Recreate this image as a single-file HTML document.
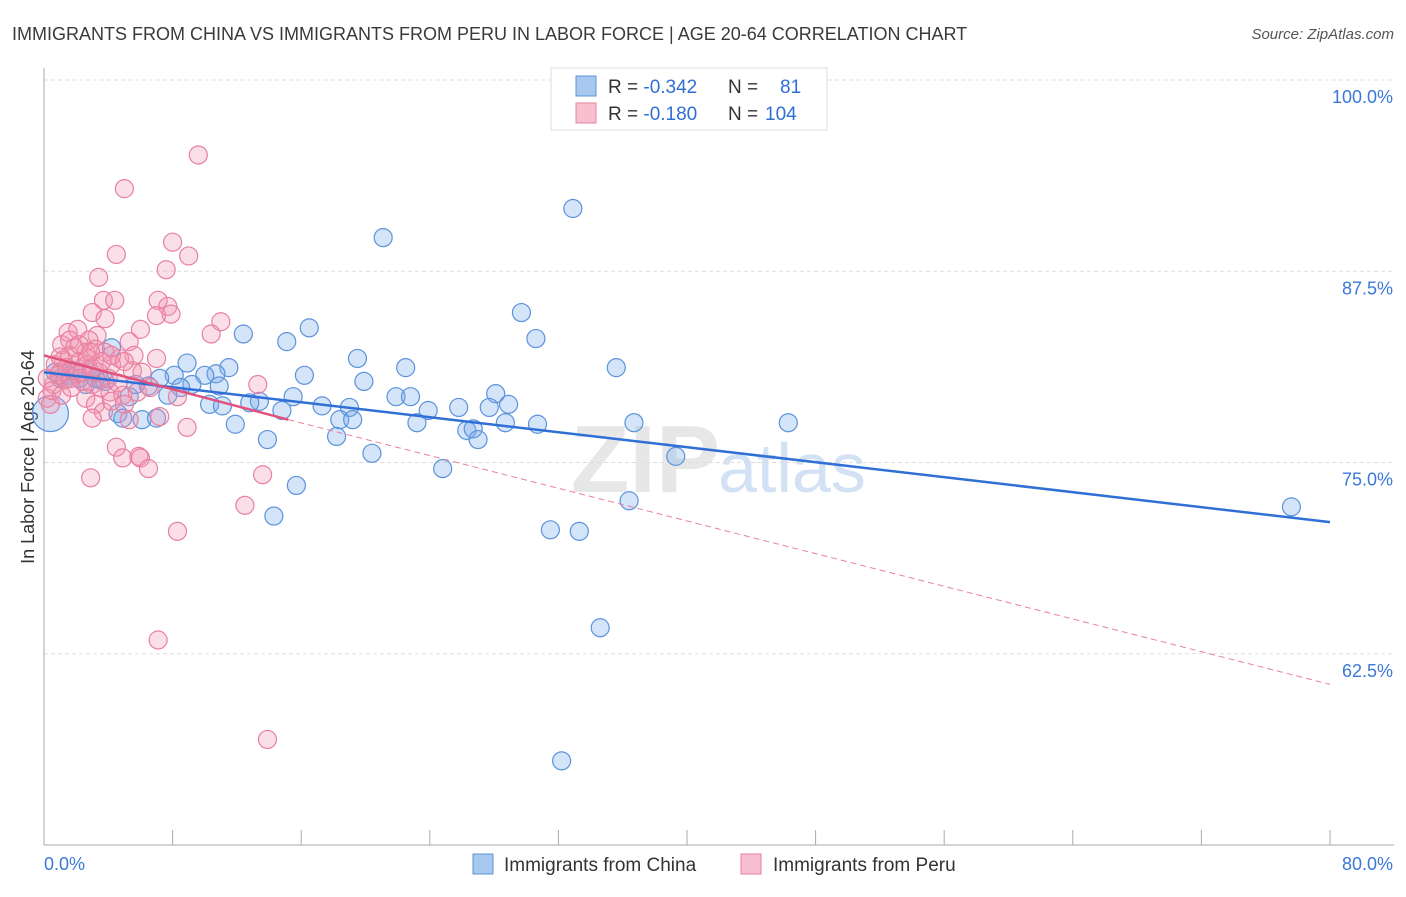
<!DOCTYPE html>
<html><head><meta charset="utf-8"><style>
body{margin:0;background:#fff;font-family:"Liberation Sans",sans-serif;}
svg text{font-family:"Liberation Sans",sans-serif;}
</style></head><body>
<svg id="chart" width="1406" height="892" xmlns="http://www.w3.org/2000/svg">
<text x="12" y="40" font-size="18" fill="#3a3a3a">IMMIGRANTS FROM CHINA VS IMMIGRANTS FROM PERU IN LABOR FORCE | AGE 20-64 CORRELATION CHART</text>
<text x="1394" y="39" font-size="15" fill="#555" font-style="italic" text-anchor="end">Source: ZipAtlas.com</text>
<text x="720" y="492" font-size="96" fill="#ddd" font-family="Liberation Serif" text-anchor="end" font-weight="bold" opacity="0.7">ZIP</text>
<text x="718" y="492" font-size="70" fill="#c9daf2" opacity="0.8">atlas</text>
<g id="grid"></g><g id="axes"></g><g id="pts"></g><g id="lines"></g>
<g>
<rect x="551" y="68" width="276" height="62" fill="#fff" stroke="#ddd"/>
<rect x="576" y="76" width="20" height="20" fill="#a9c8f0" stroke="#5b93db"/>
<rect x="576" y="103" width="20" height="20" fill="#f7bfd0" stroke="#e8809f"/>
<text x="608" y="93" font-size="19" fill="#333">R = <tspan fill="#2f6fd6">-0.342</tspan><tspan x="728">N = </tspan><tspan x="780" fill="#2f6fd6">81</tspan></text>
<text x="608" y="120" font-size="19" fill="#333">R = <tspan fill="#2f6fd6">-0.180</tspan><tspan x="728">N = </tspan><tspan x="765" fill="#2f6fd6">104</tspan></text>
</g>
<g>
<rect x="473" y="854" width="20" height="20" fill="#a9c8f0" stroke="#5b93db"/>
<text x="504" y="871" font-size="19" fill="#333">Immigrants from China</text>
<rect x="741" y="854" width="20" height="20" fill="#f7bfd0" stroke="#e8809f"/>
<text x="773" y="871" font-size="19" fill="#333">Immigrants from Peru</text>
</g>
</svg>
<script>
const chinaX=[32.9,21.1,29.7,30.6,16.5,15.1,12.4,35.6,19.5,22.5,8.9,11.5,10.7,10.0,8.1,7.2,4.2,16.2,19.9,9.2,8.5,10.9,28.1,21.9,22.8,28.9,15.5,13.4,12.8,10.3,11.1,17.3,19.0,25.8,27.7,23.9,7.7,5.3,6.5,14.8,18.4,19.2,23.2,36.7,30.7,28.7,26.3,26.7,46.3,11.9,4.6,4.9,6.1,7.0,18.2,13.9,27.0,20.4,24.8,39.3,15.7,36.4,14.3,31.5,33.3,34.6,32.2,77.6,0.4,1.0,1.6,2.2,2.9,3.5,0.7,3.8,5.7,1.3,1.9,2.6,3.2];
const chinaY=[91.6,89.7,84.8,83.1,83.8,82.9,83.4,81.2,81.8,81.2,81.5,81.2,80.8,80.7,80.7,80.5,82.5,80.7,80.3,80.1,79.9,80.0,79.5,79.3,79.3,78.8,79.3,79.0,78.9,78.8,78.7,78.7,78.6,78.6,78.6,78.4,79.4,79.3,80.0,78.4,77.8,77.8,77.6,77.6,77.5,77.6,77.1,77.2,77.6,77.5,78.2,77.9,77.8,77.9,76.7,76.5,76.5,75.6,74.6,75.4,73.5,72.5,71.5,70.6,70.5,64.2,55.5,72.1,78.2,80.5,80.7,80.5,80.9,80.4,80.9,80.3,80.1,80.4,81.0,80.1,80.5];
const peruX=[9.6,5.0,8.0,9.0,4.5,7.6,3.4,3.7,4.4,7.1,7.7,7.9,7.0,3.0,3.8,11.0,10.4,6.0,1.5,2.1,3.3,2.8,5.3,1.1,1.9,2.6,3.2,3.8,5.6,7.0,4.7,4.2,5.5,6.1,1.2,1.6,2.2,2.7,0.7,1.0,1.3,1.7,2.4,3.0,3.5,4.1,4.9,5.8,6.6,8.3,13.3,0.6,0.2,0.4,2.6,3.2,4.2,5.0,3.7,5.3,7.2,3.0,8.9,4.5,4.9,5.9,6.0,6.5,2.9,13.6,12.5,8.3,7.1,13.9,0.9,1.4,2.1,2.7,3.4,4.0,4.6,0.2,0.5,1.1,1.7,2.4,3.0,3.6,4.2,1.6,2.2,2.9,1.0,5.0];
const peruY=[95.1,92.9,89.4,88.5,88.6,87.6,87.1,85.6,85.6,85.6,85.2,84.7,84.6,84.8,84.4,84.2,83.4,83.7,83.5,83.7,83.3,83.0,82.9,82.7,82.5,82.2,82.4,82.2,82.0,81.8,81.8,81.4,81.0,80.9,81.7,82.0,81.6,81.4,81.4,80.9,80.4,80.5,80.3,80.1,79.9,79.6,79.4,79.6,79.9,79.3,80.1,80.1,79.2,78.8,79.2,78.8,79.0,78.8,78.3,77.8,78.0,77.9,77.3,76.0,75.3,75.4,75.3,74.6,74.0,74.2,72.2,70.5,63.4,56.9,80.7,81.2,80.8,81.8,80.9,80.5,80.2,80.5,79.7,79.4,79.9,80.9,81.2,81.6,82.0,83.0,82.7,82.2,81.9,81.6];
const chinaTrend=[[0,80.9],[80,71.1]];
const peruTrendSolid=[[0,82.0],[15.2,77.8]];
const peruTrendDash=[[15.2,77.8],[80,60.5]];
const yTicks=[100,87.5,75,62.5];
const yTickLabels=["100.0%","87.5%","75.0%","62.5%"];
const xTicks=[0,8,16,24,32,40,48,56,64,72,80];

const NS="http://www.w3.org/2000/svg";
const X0=44,X1=1330,YB=845;
const sx=v=>X0+(v/80)*(X1-X0);
const sy=v=>80+(100-v)*15.3;
function mk(tag,attrs,parent){const e=document.createElementNS(NS,tag);for(const k in attrs)e.setAttribute(k,attrs[k]);document.getElementById(parent).appendChild(e);return e;}
yTicks.forEach((t,i)=>{
 const g=mk('line',{x1:X0,x2:1394,y1:sy(t),y2:sy(t),stroke:'#ddd','stroke-dasharray':'4,3'},'grid');
 
 
 const l=mk('text',{x:1393,y:sy(t)+23,'font-size':18,fill:'#3b78d8','text-anchor':'end'},'grid');
 l.textContent=yTickLabels[i];
 
 
});
const ya=mk('line',{x1:X0,x2:X0,y1:68,y2:YB,stroke:'#aaa'},'axes');


const xa=mk('line',{x1:X0,x2:1394,y1:YB,y2:YB,stroke:'#aaa'},'axes');


xTicks.forEach(t=>{
 const tk=mk('line',{x1:sx(t),x2:sx(t),y1:830,y2:YB,stroke:'#aaa'},'axes');
 
 
});
const xl0=mk('text',{x:44,y:870,'font-size':18,fill:'#3b78d8'},'axes');xl0.textContent='0.0%';


const xl1=mk('text',{x:1393,y:870,'font-size':18,fill:'#3b78d8','text-anchor':'end'},'axes');xl1.textContent='80.0%';


const yt=mk('text',{x:0,y:0,'font-size':18,fill:'#333','text-anchor':'middle',transform:'translate(34,457) rotate(-90)'},'axes');yt.textContent='In Labor Force | Age 20-64';



chinaX.forEach((x,i)=>{
 const big=(i===68);
 const c=mk('circle',{cx:sx(x),cy:sy(chinaY[i]),r:big?18:9,fill:'rgba(120,170,235,0.32)',stroke:'#5b93db','stroke-width':1.2},'pts');
 
 
});
peruX.forEach((x,i)=>{
 const c=mk('circle',{cx:sx(x),cy:sy(peruY[i]),r:9,fill:'rgba(242,150,180,0.3)',stroke:'#e8809f','stroke-width':1.2},'pts');
 
 
});
const lb=mk('line',{x1:sx(chinaTrend[0][0]),y1:sy(chinaTrend[0][1]),x2:sx(chinaTrend[1][0]),y2:sy(chinaTrend[1][1]),stroke:'#2f6fd6','stroke-width':2.5},'lines');


const lp=mk('line',{x1:sx(peruTrendSolid[0][0]),y1:sy(peruTrendSolid[0][1]),x2:sx(peruTrendSolid[1][0]),y2:sy(peruTrendSolid[1][1]),stroke:'#e0527c','stroke-width':2.5},'lines');


const ld=mk('line',{x1:sx(peruTrendDash[0][0]),y1:sy(peruTrendDash[0][1]),x2:sx(peruTrendDash[1][0]),y2:sy(peruTrendDash[1][1]),stroke:'#e8809f','stroke-width':1,'stroke-dasharray':'6,4'},'lines');


</script>
</body></html>
